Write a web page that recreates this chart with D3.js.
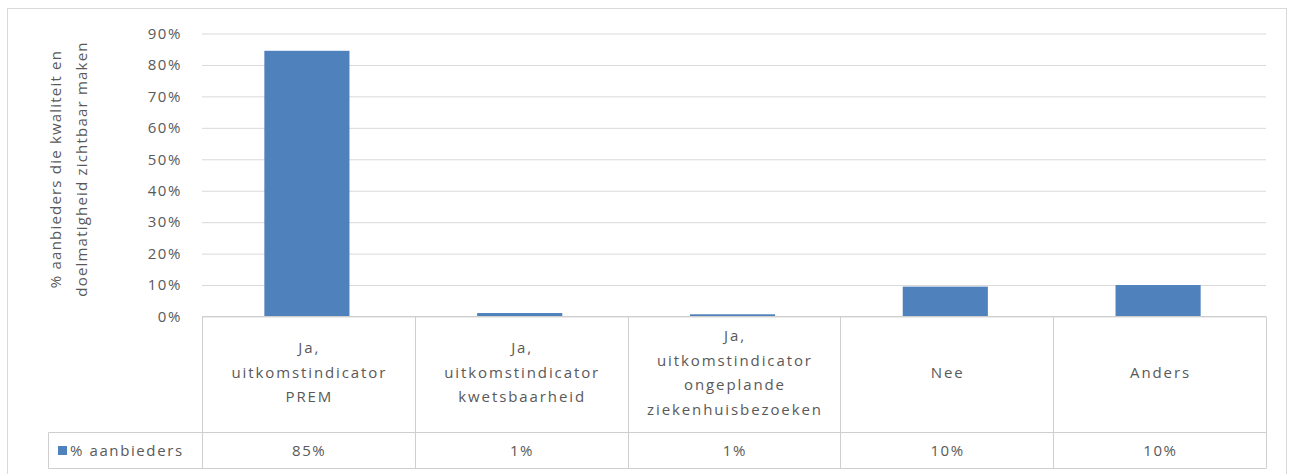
<!DOCTYPE html>
<html><head><meta charset="utf-8">
<script src="https://cdn.jsdelivr.net/npm/d3@7"></script>
<style>
html,body{margin:0;padding:0;background:#fff;}
svg{display:block;}
text{font-family:"Open Sans",sans-serif;fill:#595959;}
</style></head>
<body><svg id="chart" width="1290" height="474"></svg>
<script>
const categories = [
  ["Ja,", "uitkomstindicator", "PREM"],
  ["Ja,", "uitkomstindicator", "kwetsbaarheid"],
  ["Ja,", "uitkomstindicator", "ongeplande", "ziekenhuisbezoeken"],
  ["Nee"],
  ["Anders"]
];
const values = [0.845, 0.011, 0.007, 0.095, 0.10];
const tableLabels = ["85%", "1%", "1%", "10%", "10%"];
const seriesName = "% aanbieders";
const yTicks = [0, 0.1, 0.2, 0.3, 0.4, 0.5, 0.6, 0.7, 0.8, 0.9];
const yTitle = ["% aanbieders die kwaliteit en", "doelmatigheid zichtbaar maken"];

const svg = d3.select("#chart");
const plot = {left: 202, right: 1266, top: 33.5, bottom: 316.5};
const tableMid = 432.5, tableBottom = 468.5, legendLeft = 48.5;
const gridColor = "#d9d9d9", tableColor = "#cfcfcf", barColor = "#4f81bd";
const LS = 1.6, LSC = 1.9;

// outer border
svg.append("rect").attr("x", 7.5).attr("y", 8.5).attr("width", 1279).attr("height", 480)
  .attr("fill", "none").attr("stroke", "#d9d9d9");

const idx = categories.map((d, i) => i);
const x = d3.scaleBand().domain(idx).range([plot.left, plot.right]).paddingInner(0.6).paddingOuter(0.3);
const xc = d3.scaleBand().domain(idx).range([plot.left, plot.right]).padding(0);
const y = d3.scaleLinear().domain([0, 0.9]).range([plot.bottom, plot.top]);

// gridlines + tick labels
const yAxis = d3.axisLeft(y).tickValues(yTicks).tickFormat(d3.format(".0%"))
  .tickSize(-(plot.right - plot.left)).tickPadding(20);
const ga = svg.append("g").attr("transform", `translate(${plot.left},0)`).call(yAxis);
ga.select(".domain").remove();
ga.selectAll(".tick line").attr("stroke", gridColor).attr("stroke-width", 1);
ga.selectAll(".tick text").attr("font-size", 15).attr("fill", "#595959")
  .attr("font-family", "'Open Sans',sans-serif").attr("letter-spacing", 1.6);

// bars
svg.append("g").selectAll("rect").data(values).join("rect")
  .attr("x", (d, i) => x(i) - 1.5)
  .attr("width", x.bandwidth())
  .attr("y", d => y(d))
  .attr("height", d => y(0) - y(d))
  .attr("fill", barColor);

// data table
const tg = svg.append("g").attr("stroke", tableColor).attr("stroke-width", 1).attr("fill", "none");
tg.append("line").attr("x1", plot.left).attr("x2", plot.right).attr("y1", plot.bottom).attr("y2", plot.bottom);
tg.append("line").attr("x1", legendLeft).attr("x2", plot.right).attr("y1", tableMid).attr("y2", tableMid);
tg.append("line").attr("x1", legendLeft).attr("x2", plot.right).attr("y1", tableBottom).attr("y2", tableBottom);
tg.append("line").attr("x1", legendLeft).attr("x2", legendLeft).attr("y1", tableMid).attr("y2", tableBottom);
const bounds = idx.map(i => xc(i)).concat([plot.right]);
tg.selectAll("line.v").data(bounds).join("line").attr("class", "v")
  .attr("x1", d => Math.round(d) + 0.5).attr("x2", d => Math.round(d) + 0.5)
  .attr("y1", plot.bottom).attr("y2", tableBottom);

// category labels
const lh = 24.5;
const catMid = (plot.bottom + tableMid) / 2 - 2;
categories.forEach((lines, i) => {
  const cx = xc(i) + xc.bandwidth() / 2 + LSC / 2;
  const t = svg.append("text").attr("text-anchor", "middle").attr("font-size", 15)
    .attr("letter-spacing", LSC).attr("x", cx);
  lines.forEach((ln, j) => {
    t.append("tspan").attr("x", cx)
      .attr("y", catMid + (j - (lines.length - 1) / 2) * lh)
      .attr("dy", "0.35em").text(ln);
  });
});

// values row
const rowMid = (tableMid + tableBottom) / 2;
svg.append("g").selectAll("text").data(tableLabels).join("text")
  .attr("x", (d, i) => xc(i) + xc.bandwidth() / 2 + LS / 2)
  .attr("y", rowMid).attr("dy", "0.35em").attr("text-anchor", "middle")
  .attr("letter-spacing", LS).attr("font-size", 15).text(d => d);

// legend cell
svg.append("rect").attr("x", 58).attr("y", rowMid - 4.5).attr("width", 9).attr("height", 9).attr("fill", barColor);
svg.append("text").attr("x", 70).attr("y", rowMid).attr("dy", "0.35em").attr("font-size", 15)
  .attr("letter-spacing", LS).text(seriesName);

// y title
const tt = svg.append("text").attr("text-anchor", "middle").attr("font-size", 15)
  .attr("transform", `translate(61,${(plot.top + plot.bottom) / 2 - 6}) rotate(-90)`);
yTitle.forEach((ln, j) => {
  tt.append("tspan").attr("x", 0).attr("y", j * 26).attr("letter-spacing", 1.2).text(ln);
});
</script></body></html>
